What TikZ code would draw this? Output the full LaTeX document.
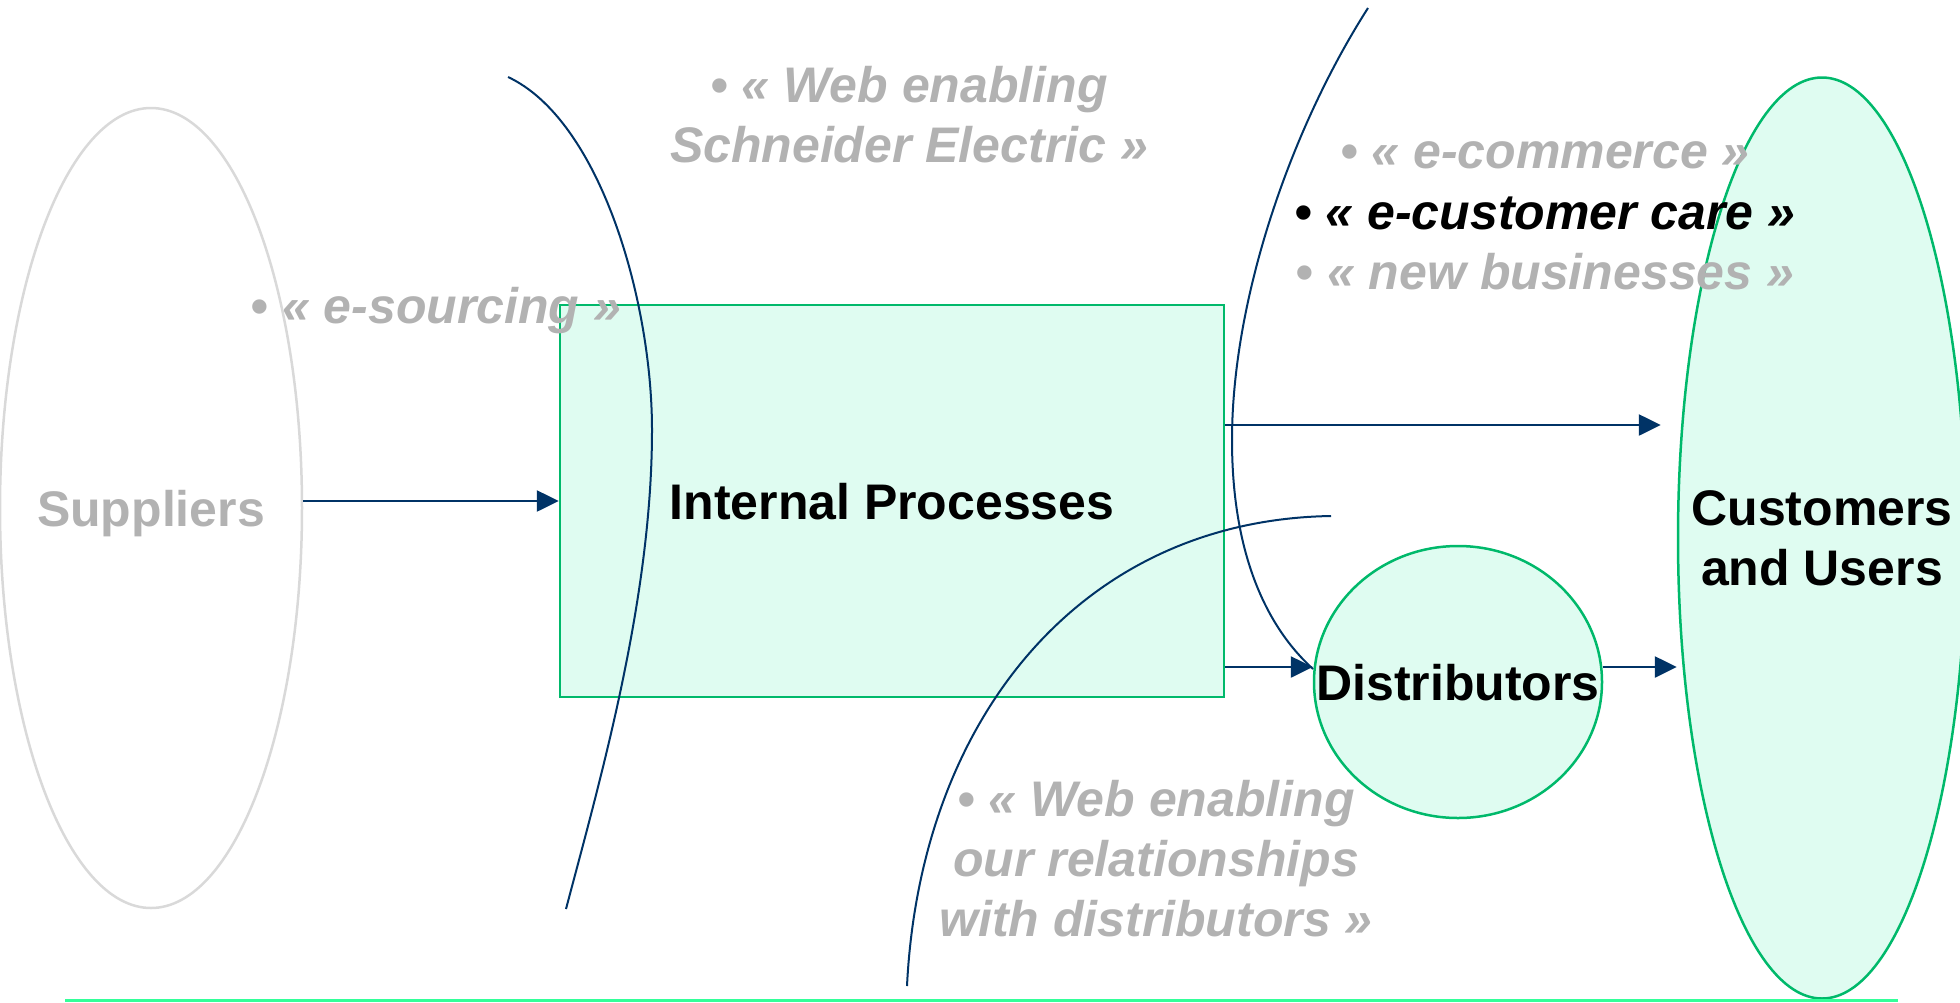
\documentclass[tikz,border=0pt]{standalone}
\usepackage{fontspec}
\setmainfont{Liberation Sans}
\usetikzlibrary{shapes.geometric, arrows.meta}
\definecolor{navy}{HTML}{003366}
\definecolor{mint}{HTML}{DFFCF1}
\definecolor{grn}{HTML}{00B96B}
\definecolor{lgray}{HTML}{D9D9D9}
\definecolor{tgray}{HTML}{B2B2B2}
\definecolor{spring}{HTML}{33FF99}
\begin{document}
\begin{tikzpicture}[x=1pt, y=-1pt,
  box/.style={draw=grn, fill=mint, line width=2.5pt, inner sep=0pt},
  oval/.style={ellipse, inner sep=0pt, line width=2.5pt},
  big/.style={font=\fontsize{50}{60}\selectfont\bfseries},
  onel/.style={text height=36pt, text depth=0pt},
  bul/.style={font=\fontsize{50}{60}\selectfont\bfseries\itshape, text=tgray, inner sep=0pt, anchor=base},
  arr/.style={draw=navy, line width=2.6pt, -{Triangle[length=22pt,width=21pt]}},
  curve/.style={draw=navy, line width=2pt},
]
\useasboundingbox (0,0) rectangle (1960,1002);

% main shapes
\node[oval, draw=lgray, minimum width=302pt, minimum height=800pt,
  label={[big, onel, inner sep=0pt, text=tgray, anchor=center]center:Suppliers}]
  (suppliers) at (151,508) {};
\node[box, minimum width=664pt, minimum height=392pt, big, onel]
  (internal) at (892,501) {Internal Processes};
\node[oval, draw=grn, fill=mint, minimum width=288pt, minimum height=272pt,
  label={[big, onel, inner sep=0pt, anchor=center]center:Distributors}]
  (distributors) at (1458,682) {};
\node[oval, draw=grn, fill=mint, minimum width=288pt, minimum height=921pt,
  label={[big, align=center, inner sep=0pt, anchor=center]center:{Customers\\and Users}}]
  (customers) at (1822,538) {};

% curves
\draw[curve] (508,77) .. controls (600,120) and (652,300) .. (652,430)
                      .. controls (652,600) and (600,780) .. (566,909);
\draw[curve] (1368,8) .. controls (1290,130) and (1232,300) .. (1232,440)
                      .. controls (1232,560) and (1270,630) .. (1313,669);
\draw[curve] (1331,516) .. controls (1080,520) and (920,720) .. (907,986);

% connectors
\coordinate (o2) at ([yshift=76pt]internal.east);
\coordinate (o3) at ([yshift=-166pt]internal.east);
\draw[arr] (internal.west -| suppliers.east) -- (internal.west);
\draw[arr, shorten >=16pt] (o2) -- (o2 -| customers.west);
\draw[arr] (o3) -- (o3 -| distributors.west);
\draw[arr] (o3 -| distributors.east) -- (o3 -| customers.west);

% bottom line
\draw[spring, line width=3pt] (65,1000) -- (1898,1000);

% labels
\node[bul] (w1) at (909,102) {• « Web enabling};
\node[bul] (w2) at (909,162) {Schneider Electric »};
\node[bul] (es) at (436,323) {• « e-sourcing »};
\node[bul] (ec) at (1545,168) {• « e-commerce »};
\node[bul, text=black] (ecc) at (1545,229) {• « e-customer care »};
\node[bul] (nb) at (1545,289) {• « new businesses »};
\node[bul] (d1) at (1156,816) {• « Web enabling};
\node[bul] (d2) at (1156,876) {our relationships};
\node[bul] (d3) at (1156,936) {with distributors »};
\end{tikzpicture}
\end{document}
